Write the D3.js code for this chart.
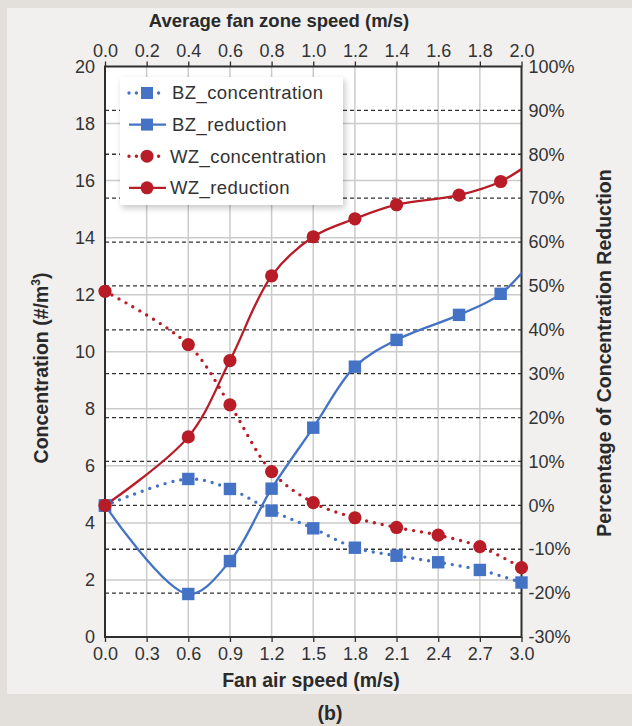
<!DOCTYPE html>
<html>
<head>
<meta charset="utf-8">
<script src="https://cdn.jsdelivr.net/npm/d3@7/dist/d3.min.js"></script>
<style>
  body { margin: 0; background: #e3e0db; }
  svg { display: block; font-family: "Liberation Sans", Arial, sans-serif; }
</style>
</head>
<body>
<svg id="svg" width="632" height="726"></svg>
<script>
// fan air speed (bottom axis) for the concentration series
var fanSpeed = [0, 0.6, 0.9, 1.2, 1.5, 1.8, 2.1, 2.4, 2.7, 3.0];
var bzConc = [4.6, 5.54, 5.19, 4.43, 3.81, 3.13, 2.85, 2.62, 2.35, 1.91];
var wzConc = [12.12, 10.25, 8.14, 5.8, 4.71, 4.18, 3.84, 3.57, 3.17, 2.43];

// average fan zone speed (top axis) for the reduction series
var zoneSpeed = [0, 0.4, 0.6, 0.8, 1.0, 1.2, 1.4, 1.7, 1.9, 2.1];
var bzRed = [0, -20.2, -12.7, 3.8, 17.7, 31.6, 37.7, 43.4, 48.2, 58.5];
var wzRed = [0, 15.6, 33, 52.3, 61.2, 65.3, 68.5, 70.7, 73.8, 80];

var bottomTicks = [0, 0.3, 0.6, 0.9, 1.2, 1.5, 1.8, 2.1, 2.4, 2.7, 3.0];
var topTicks = [0, 0.2, 0.4, 0.6, 0.8, 1.0, 1.2, 1.4, 1.6, 1.8, 2.0];
var leftTicks = [0, 2, 4, 6, 8, 10, 12, 14, 16, 18, 20];
var rightTicks = [-30, -20, -10, 0, 10, 20, 30, 40, 50, 60, 70, 80, 90, 100];

var seriesNames = ["BZ_concentration", "BZ_reduction", "WZ_concentration", "WZ_reduction"];

var svg = d3.select("#svg");
var blue = "#4472c4", red = "#b71c27", ink = "#2e2e2e";

// plot box (window.top is read-only, so no bare "top")
var pl = 105, pr = 521.5, pt = 66.5, pb = 637;

var x = d3.scaleLinear().domain([0, 3]).range([pl, pr]);
var xTop = d3.scaleLinear().domain([0, 2]).range([pl, pr]);
var y = d3.scaleLinear().domain([0, 20]).range([pb, pt]);
var yRight = d3.scaleLinear().domain([-30, 100]).range([pb, pt]);

// panel background
svg.append("rect").attr("x", 7).attr("y", 8).attr("width", 625).attr("height", 686)
    .attr("fill", "#f1f0ee");

var defs = svg.append("defs");
defs.append("clipPath").attr("id", "clip")
  .append("rect").attr("x", pl).attr("y", pt)
    .attr("width", pr - pl).attr("height", pb - pt);
var shadow = defs.append("filter").attr("id", "shadow")
    .attr("x", "-10%").attr("y", "-10%").attr("width", "130%").attr("height", "130%");
shadow.append("feDropShadow").attr("dx", 2).attr("dy", 3).attr("stdDeviation", 3)
    .attr("flood-color", "#000").attr("flood-opacity", 0.22);

svg.append("rect").attr("x", pl).attr("y", pt)
    .attr("width", pr - pl).attr("height", pb - pt).attr("fill", "#fff");

// grid
var grid = svg.append("g");
grid.selectAll(".vg").data(bottomTicks.slice(1, -1)).enter().append("line")
    .attr("x1", d => x(d)).attr("x2", d => x(d)).attr("y1", pt).attr("y2", pb)
    .attr("stroke", "#cbcbcb").attr("stroke-width", 1.5);
grid.selectAll(".hg").data(leftTicks.slice(1, -1)).enter().append("line")
    .attr("x1", pl).attr("x2", pr).attr("y1", d => y(d)).attr("y2", d => y(d))
    .attr("stroke", "#cbcbcb").attr("stroke-width", 1.5);
grid.selectAll(".dg").data(rightTicks.slice(1, -1)).enter().append("line")
    .attr("x1", pl).attr("x2", pr).attr("y1", d => yRight(d)).attr("y2", d => yRight(d))
    .attr("stroke", "#333").attr("stroke-width", 1.3).attr("stroke-dasharray", "4,3");

// axes
function styleAxis(g) {
  g.select(".domain").remove();
  g.selectAll("line").attr("stroke", ink).attr("stroke-width", 1.3);
  g.selectAll("text").attr("fill", "#333").style("font-size", "18px");
}
svg.append("g").attr("transform", "translate(0," + pb + ")")
    .call(d3.axisBottom(x).tickValues(bottomTicks).tickFormat(d3.format(".1f")).tickSize(5).tickPadding(5))
    .call(styleAxis);
svg.append("g").attr("transform", "translate(0," + pt + ")")
    .call(d3.axisTop(xTop).tickValues(topTicks).tickFormat(d3.format(".1f")).tickSize(5).tickPadding(5))
    .call(styleAxis);
svg.append("g").attr("transform", "translate(" + pl + ",0)")
    .call(d3.axisLeft(y).tickValues(leftTicks).tickSize(0).tickPadding(10))
    .call(styleAxis);
svg.append("g").attr("transform", "translate(" + pr + ",0)")
    .call(d3.axisRight(yRight).tickValues(rightTicks).tickFormat(d => d + "%").tickSize(0).tickPadding(7))
    .call(styleAxis);

// frame
svg.append("rect").attr("x", pl).attr("y", pt)
    .attr("width", pr - pl).attr("height", pb - pt)
    .attr("fill", "none").attr("stroke", ink).attr("stroke-width", 2);

// axis titles
svg.append("text").attr("x", 279).attr("y", 27).attr("text-anchor", "middle")
    .attr("font-weight", "bold").attr("font-size", 18.5).attr("fill", "#2a2a2a")
    .text("Average fan zone speed (m/s)");
svg.append("text").attr("x", 311).attr("y", 687).attr("text-anchor", "middle")
    .attr("font-weight", "bold").attr("font-size", 19.5).attr("fill", "#2a2a2a")
    .text("Fan air speed (m/s)");
var yl = svg.append("text").attr("transform", "translate(48,368) rotate(-90)")
    .attr("text-anchor", "middle").attr("font-weight", "bold").attr("font-size", 19.5)
    .attr("fill", "#2a2a2a");
yl.append("tspan").text("Concentration (#/m");
yl.append("tspan").attr("font-size", 12).attr("dy", -8).text("3");
yl.append("tspan").attr("dy", 8).text(")");
svg.append("text").attr("transform", "translate(611,353) rotate(-90)")
    .attr("text-anchor", "middle").attr("font-weight", "bold").attr("font-size", 19.5)
    .attr("fill", "#2a2a2a").text("Percentage of Concentration Reduction");
svg.append("text").attr("x", 330).attr("y", 720).attr("text-anchor", "middle")
    .attr("font-weight", "bold").attr("font-size", 19.5).attr("fill", "#2a2a2a")
    .text("(b)");

// series: lines clipped to the plot, markers drawn in full if inside x range
var lines = svg.append("g").attr("clip-path", "url(#clip)");
var marks = svg.append("g");
var curve = d3.curveCatmullRom;

function drawSeries(xs, ys, xScale, yScale, color, dotted, marker) {
  var pts = xs.map((d, i) => [xScale(d), yScale(ys[i])]);
  var path = lines.append("path").attr("d", d3.line().curve(curve)(pts))
      .attr("fill", "none").attr("stroke", color);
  if (dotted) {
    path.attr("stroke-width", 3.4).attr("stroke-linecap", "round").attr("stroke-dasharray", "0,8");
  } else {
    path.attr("stroke-width", 2.3);
  }
  var m = marks.append("g").selectAll("." + marker)
      .data(pts.filter(d => d[0] <= pr + 1)).enter();
  if (marker === "square") {
    m.append("rect").attr("x", d => d[0] - 6.2).attr("y", d => d[1] - 6.2)
        .attr("width", 12.4).attr("height", 12.4).attr("fill", color);
  } else {
    m.append("circle").attr("cx", d => d[0]).attr("cy", d => d[1]).attr("r", 6.6)
        .attr("fill", color);
  }
}

drawSeries(fanSpeed, bzConc, x, y, blue, true, "square");
drawSeries(zoneSpeed, bzRed, xTop, yRight, blue, false, "square");
drawSeries(fanSpeed, wzConc, x, y, red, true, "circle");
drawSeries(zoneSpeed, wzRed, xTop, yRight, red, false, "circle");

// legend
var legend = svg.append("g");
legend.append("rect").attr("x", 120).attr("y", 77).attr("width", 223).attr("height", 128)
    .attr("fill", "#fff").attr("filter", "url(#shadow)");
var legendColor = [blue, blue, red, red];
seriesNames.forEach(function(name, i) {
  var cy = 93 + i * 31.6;
  var c = legendColor[i];
  var dotted = name.indexOf("concentration") >= 0;
  var ln = legend.append("line").attr("x1", 129).attr("x2", 166).attr("y1", cy).attr("y2", cy)
      .attr("stroke", c);
  if (dotted) {
    ln.attr("stroke-width", 3.4).attr("stroke-linecap", "round").attr("stroke-dasharray", "0,7.4");
  } else {
    ln.attr("stroke-width", 2.3);
  }
  if (i < 2) {
    legend.append("rect").attr("x", 141).attr("y", cy - 6).attr("width", 12).attr("height", 12)
        .attr("fill", c);
  } else {
    legend.append("circle").attr("cx", 147).attr("cy", cy).attr("r", 6.5).attr("fill", c);
  }
  legend.append("text").attr("x", i < 2 ? 172 : 170).attr("y", cy).attr("dy", "0.35em")
      .attr("font-size", 18.5).attr("letter-spacing", 0.4).attr("fill", "#333").text(name);
});
</script>
</body>
</html>
